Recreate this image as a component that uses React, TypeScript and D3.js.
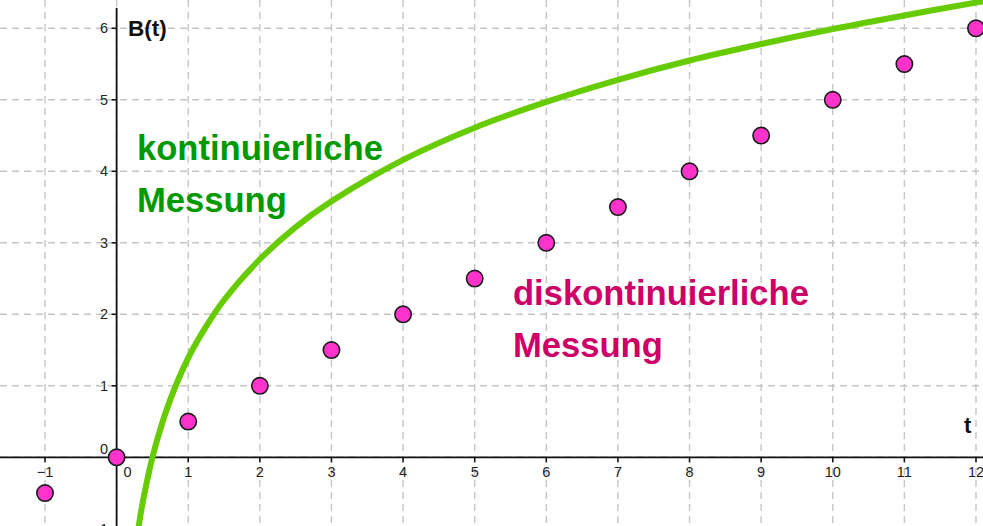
import React from "react";
import * as d3 from "d3";

const W = 983;
const H = 526;

// Tick values
const xTicks = [-1, 1, 2, 3, 4, 5, 6, 7, 8, 9, 10, 11, 12];
const yTicks = [-1, 1, 2, 3, 4, 5, 6];
const xGrid = [-1, 0, 1, 2, 3, 4, 5, 6, 7, 8, 9, 10, 11, 12];
const yGrid = [-1, 0, 1, 2, 3, 4, 5, 6];

// Discrete measurement points
const pointT = [-1, 0, 1, 2, 3, 4, 5, 6, 7, 8, 9, 10, 11, 12];
const pointB = [-0.5, 0, 0.5, 1, 1.5, 2, 2.5, 3, 3.5, 4, 4.5, 5, 5.5, 6];

// Continuous curve
const curveT = [0.26, 0.3, 0.35, 0.4, 0.5, 0.6, 0.75, 1, 1.25, 1.5, 2, 2.5, 3, 4, 5, 6, 7, 8, 9, 10, 11, 12, 12.3];
const curveB = [-1.3, -1.02, -0.71, -0.45, 0, 0.36, 0.81, 1.39, 1.83, 2.2, 2.77, 3.22, 3.58, 4.16, 4.61, 4.97, 5.28, 5.55, 5.78, 5.99, 6.18, 6.36, 6.41];

const xScale = d3.scaleLinear().domain([-1, 12]).range([45, 976]);
const yScale = d3.scaleLinear().domain([0, 6]).range([457.3, 28.3]);

export default function App() {
  const x0 = xScale(0);
  const y0 = yScale(0);
  const line = d3
    .line<number>()
    .x((_, i) => xScale(curveT[i]))
    .y((d) => yScale(d))
    .curve(d3.curveCatmullRom.alpha(0.5));
  const font = "'Liberation Sans', Arial, sans-serif";
  return (
    <svg
      width={W}
      height={H}
      style={{ position: "absolute", left: 0, top: 0, background: "#fff" }}
      fontFamily={font}
    >
      <defs>
        <clipPath id="clip">
          <rect x={0} y={0} width={W} height={H} />
        </clipPath>
      </defs>
      <g clipPath="url(#clip)">
        {xGrid.map((t) => (
          <line key={"gx" + t} x1={xScale(t)} x2={xScale(t)} y1={0} y2={H} stroke="#c6c6c6" strokeWidth={1.4} strokeDasharray="7,5" />
        ))}
        {yGrid.map((v) => (
          <line key={"gy" + v} x1={0} x2={W} y1={yScale(v)} y2={yScale(v)} stroke="#c6c6c6" strokeWidth={1.4} strokeDasharray="7,5" />
        ))}
        {/* axes */}
        <line x1={0} x2={W} y1={y0} y2={y0} stroke="#111" strokeWidth={1.8} />
        <line x1={x0} x2={x0} y1={8} y2={H} stroke="#111" strokeWidth={1.8} />
        {xTicks.map((t) => (
          <g key={"xt" + t}>
            <line x1={xScale(t)} x2={xScale(t)} y1={y0} y2={y0 + 5} stroke="#111" strokeWidth={1.5} />
            <text x={xScale(t)} y={477} textAnchor="middle" fontSize={14.5} fill="#222">
              {t < 0 ? "\u2212" + Math.abs(t) : t}
            </text>
          </g>
        ))}
        <text x={x0 + 11} y={477} textAnchor="middle" fontSize={14.5} fill="#222">0</text>
        {yTicks.map((v) => (
          <g key={"yt" + v}>
            <line x1={x0 - 5} x2={x0} y1={yScale(v)} y2={yScale(v)} stroke="#111" strokeWidth={1.5} />
            <text x={108} y={yScale(v) + 5} textAnchor="end" fontSize={14.5} fill="#222">
              {v < 0 ? "\u2212" + Math.abs(v) : v}
            </text>
          </g>
        ))}
        <text x={108} y={y0 - 3} textAnchor="end" fontSize={14.5} fill="#222">0</text>
        {/* curve */}
        <path d={line(curveB) || ""} fill="none" stroke="#66cc00" strokeWidth={6} />
        {/* points */}
        {pointT.map((t, i) => (
          <circle key={"p" + t} cx={xScale(t)} cy={yScale(pointB[i])} r={8.2} fill="#ff33cc" stroke="#1a1a1a" strokeWidth={1.6} />
        ))}
        {/* labels */}
        <text x={128} y={36} fontSize={22.5} fontWeight="bold" fill="#111">B(t)</text>
        <text x={964} y={433} fontSize={22} fontWeight="bold" fill="#111">t</text>
        <text x={137} y={160} fontSize={34.6} fontWeight="bold" fill="#009900">kontinuierliche</text>
        <text x={137} y={212} fontSize={34.6} fontWeight="bold" fill="#009900">Messung</text>
        <text x={513} y={305} fontSize={34.6} fontWeight="bold" fill="#cc0066">diskontinuierliche</text>
        <text x={513} y={357} fontSize={34.6} fontWeight="bold" fill="#cc0066">Messung</text>
      </g>
    </svg>
  );
}
